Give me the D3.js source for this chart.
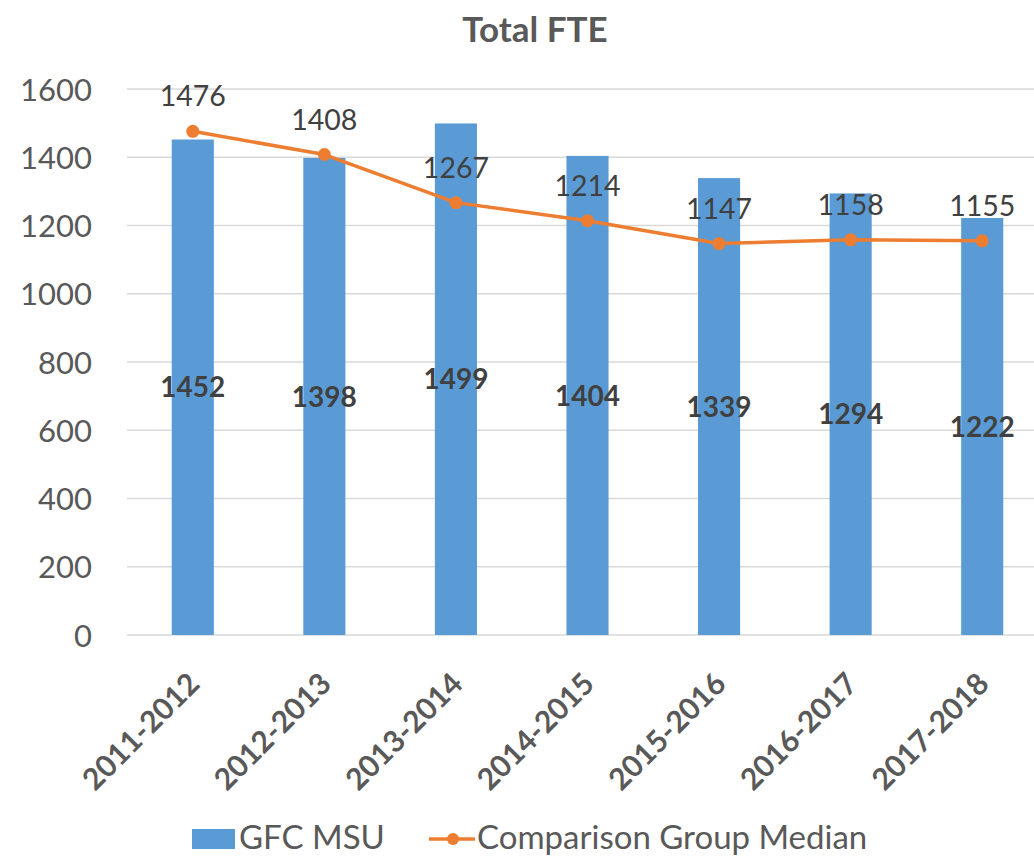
<!DOCTYPE html>
<html>
<head>
<meta charset="utf-8">
<script src="https://cdn.jsdelivr.net/npm/d3@7"></script>
<style>
  body { margin: 0; background: #fff; }
  text { font-family: Lato, "Noto Sans", sans-serif; fill: #595959; }
</style>
</head>
<body>
<svg width="1034" height="856"></svg>
<script>
var years = ["2011-2012", "2012-2013", "2013-2014", "2014-2015", "2015-2016", "2016-2017", "2017-2018"];
var gfcMsu = [1452, 1398, 1499, 1404, 1339, 1294, 1222];
var groupMedian = [1476, 1408, 1267, 1214, 1147, 1158, 1155];
var yTicks = [0, 200, 400, 600, 800, 1000, 1200, 1400, 1600];

var svg = d3.select("svg");
var barColor = "#5b9bd5", lineColor = "#ed7d31";

var x = d3.scaleBand()
    .domain(years)
    .range([127, 1048])
    .paddingInner(0.68)
    .paddingOuter(0.34);

var y = d3.scaleLinear()
    .domain([0, 1600])
    .range([635, 89]);

function cx(d) { return x(d) + x.bandwidth() / 2; }

// title
svg.append("text")
    .attr("x", 535)
    .attr("y", 42)
    .attr("text-anchor", "middle")
    .style("font-size", "35px")
    .style("font-weight", "bold")
    .text("Total FTE");

// gridlines
svg.append("g")
    .selectAll("line")
    .data(yTicks)
    .enter().append("line")
    .attr("x1", 127)
    .attr("x2", 1048)
    .attr("y1", function (d) { return y(d); })
    .attr("y2", function (d) { return y(d); })
    .attr("stroke", "#d9d9d9")
    .attr("stroke-width", 1.5);

// y axis labels
var yAxis = svg.append("g")
    .attr("transform", "translate(92,0)")
    .call(d3.axisLeft(y).tickValues(yTicks).tickFormat(d3.format("d")).tickSize(0).tickPadding(0));
yAxis.select(".domain").remove();
yAxis.selectAll("text")
    .attr("dy", "0.36em")
    .style("font-size", "31px")
    .style("fill", "#595959")
    .style("font-family", "Lato, 'Noto Sans', sans-serif");

// bars
svg.append("g")
    .selectAll("rect")
    .data(years)
    .enter().append("rect")
    .attr("x", function (d) { return x(d); })
    .attr("width", x.bandwidth())
    .attr("y", function (d, i) { return y(gfcMsu[i]); })
    .attr("height", function (d, i) { return y(0) - y(gfcMsu[i]); })
    .attr("fill", barColor);

// bar value labels
svg.append("g")
    .selectAll("text")
    .data(years)
    .enter().append("text")
    .attr("x", cx)
    .attr("y", function (d, i) { return (y(gfcMsu[i]) + y(0)) / 2; })
    .attr("dy", "0.36em")
    .attr("text-anchor", "middle")
    .style("font-size", "28px")
    .style("font-weight", "bold")
    .style("fill", "#404040")
    .text(function (d, i) { return gfcMsu[i]; });

// median line
var line = d3.line()
    .x(function (d, i) { return cx(years[i]); })
    .y(function (d) { return y(d); });

svg.append("path")
    .datum(groupMedian)
    .attr("d", line)
    .attr("fill", "none")
    .attr("stroke", lineColor)
    .attr("stroke-width", 3.5)
    .attr("stroke-linejoin", "round");

svg.append("g")
    .selectAll("circle")
    .data(groupMedian)
    .enter().append("circle")
    .attr("cx", function (d, i) { return cx(years[i]); })
    .attr("cy", function (d) { return y(d); })
    .attr("r", 6.5)
    .attr("fill", lineColor);

svg.append("g")
    .selectAll("text")
    .data(groupMedian)
    .enter().append("text")
    .attr("x", function (d, i) { return cx(years[i]); })
    .attr("y", function (d) { return y(d) - 25; })
    .attr("text-anchor", "middle")
    .style("font-size", "28.5px")
    .style("fill", "#404040")
    .text(function (d) { return d; });

// category labels
svg.append("g")
    .selectAll("text")
    .data(years)
    .enter().append("text")
    .attr("transform", function (d) {
        return "translate(" + (cx(d) + 1) + ",678) rotate(-45)";
    })
    .attr("text-anchor", "end")
    .attr("dy", "0.36em")
    .style("font-size", "30px")
    .style("font-weight", "bold")
    .text(function (d) { return d; });

// legend
var legend = svg.append("g");
legend.append("rect")
    .attr("x", 192).attr("y", 829)
    .attr("width", 43).attr("height", 20)
    .attr("fill", barColor);
legend.append("text")
    .attr("x", 239).attr("y", 849)
    .style("font-size", "33px")
    .text("GFC MSU");
legend.append("line")
    .attr("x1", 429).attr("x2", 475)
    .attr("y1", 839).attr("y2", 839)
    .attr("stroke", lineColor)
    .attr("stroke-width", 3.5);
legend.append("circle")
    .attr("cx", 453).attr("cy", 839)
    .attr("r", 6)
    .attr("fill", lineColor);
legend.append("text")
    .attr("x", 477).attr("y", 849)
    .style("font-size", "33px")
    .text("Comparison Group Median");
</script>
</body>
</html>
